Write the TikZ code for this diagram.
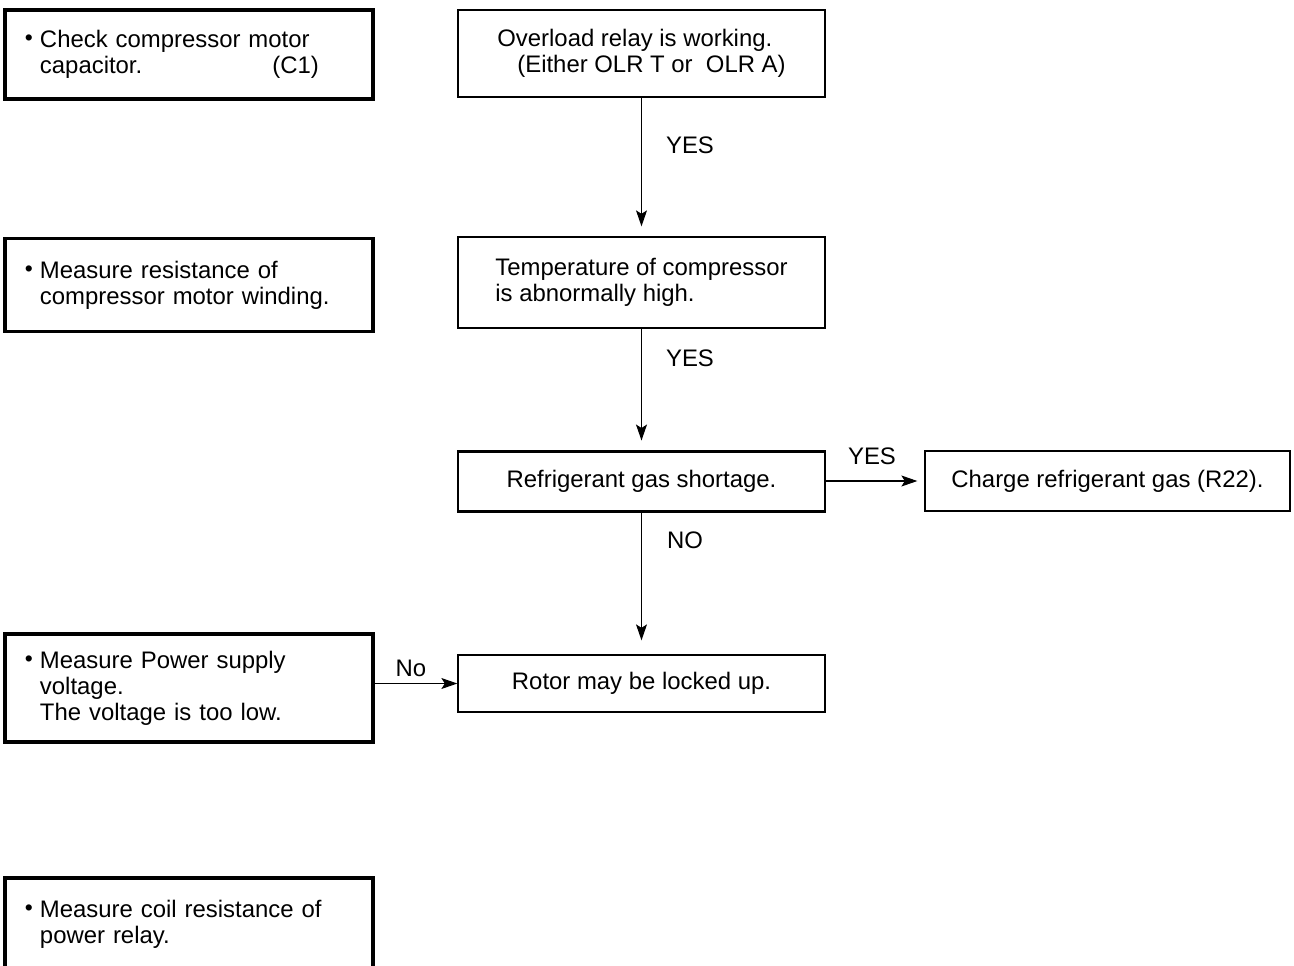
\documentclass[tikz,border=0pt]{standalone}
\usepackage{fontspec}
\setmainfont{Liberation Sans}
\usetikzlibrary{arrows.meta}
\newcommand{\bul}{\makebox[0.3cm][l]{\raisebox{1.2pt}{\fontsize{13}{13}\selectfont\textbullet}}}
\newcommand{\ind}{\hspace*{0.3cm}}

\begin{document}
\begin{tikzpicture}[every node/.style={font=\fontsize{13.6}{14.8}\selectfont},
    box/.style={draw, line width=0.75pt, minimum width=7.34cm, align=left},
    keybox/.style={box, line width=1.7pt},
    note/.style={draw, line width=2pt, minimum width=7.36cm, text width=6.56cm, inner xsep=0.4cm, align=left},
    flow/.style={-{Stealth[length=0.32cm, width=0.22cm, inset=0.07cm]}, line width=0.6pt}]
    \useasboundingbox (0,0) rectangle (25.88,-19.3);
    \node[note, minimum height=1.78cm] (cap) at (3.78,-1.09) {\bul Check compressor motor\\ \ind capacitor.\hspace{2.6cm}(C1)};
    \node[note, minimum height=1.86cm] (wind) at (3.78,-5.7) {\bul Measure resistance of\\ \ind compressor motor winding.};
    \node[note, minimum height=2.16cm] (volt) at (3.78,-13.76) {\bul Measure Power supply\\ \ind voltage.\\ \ind The voltage is too low.};
    \node[note, minimum height=1.84cm] (coil) at (3.78,-18.48) {\bul Measure coil resistance of\\ \ind power relay.};
    \node[box, minimum height=1.74cm] (olr) at (12.83,-1.07) {Overload relay is working.\\ \hspace*{0.4cm}(Either OLR T or\ \ OLR A)};
    \node[box, minimum height=1.82cm] (temp) at (12.83,-5.65) {Temperature of compressor\\ is abnormally high.};
    \node[keybox, minimum height=1.2cm] (gas) at (12.83,-9.62) {Refrigerant gas shortage.};
    \node[box, minimum width=7.3cm, minimum height=1.2cm] (charge) at (22.15,-9.62) {Charge refrigerant gas (R22).};
    \node[box, minimum height=1.14cm] (rotor) at (12.83,-13.67) {Rotor may be locked up.};
    \draw[flow, shorten >=0.2cm] (olr) -- (temp);
    \draw[flow, shorten >=0.18cm] (temp) -- (gas);
    \draw[flow, shorten >=0.28cm] (gas) -- (rotor);
    \draw[flow, shorten >=0.14cm] (gas) -- (charge);
    \draw[flow] (volt.east |- rotor.west) -- (rotor.west);
    \node (yes1) at (13.8,-2.9) {YES};
    \node (yes2) at (13.8,-7.16) {YES};
    \node (yes3) at (17.44,-9.12) {YES};
    \node (no1) at (13.7,-10.8) {NO};
    \node (no2) at (8.22,-13.36) {No};
\end{tikzpicture}
\end{document}
